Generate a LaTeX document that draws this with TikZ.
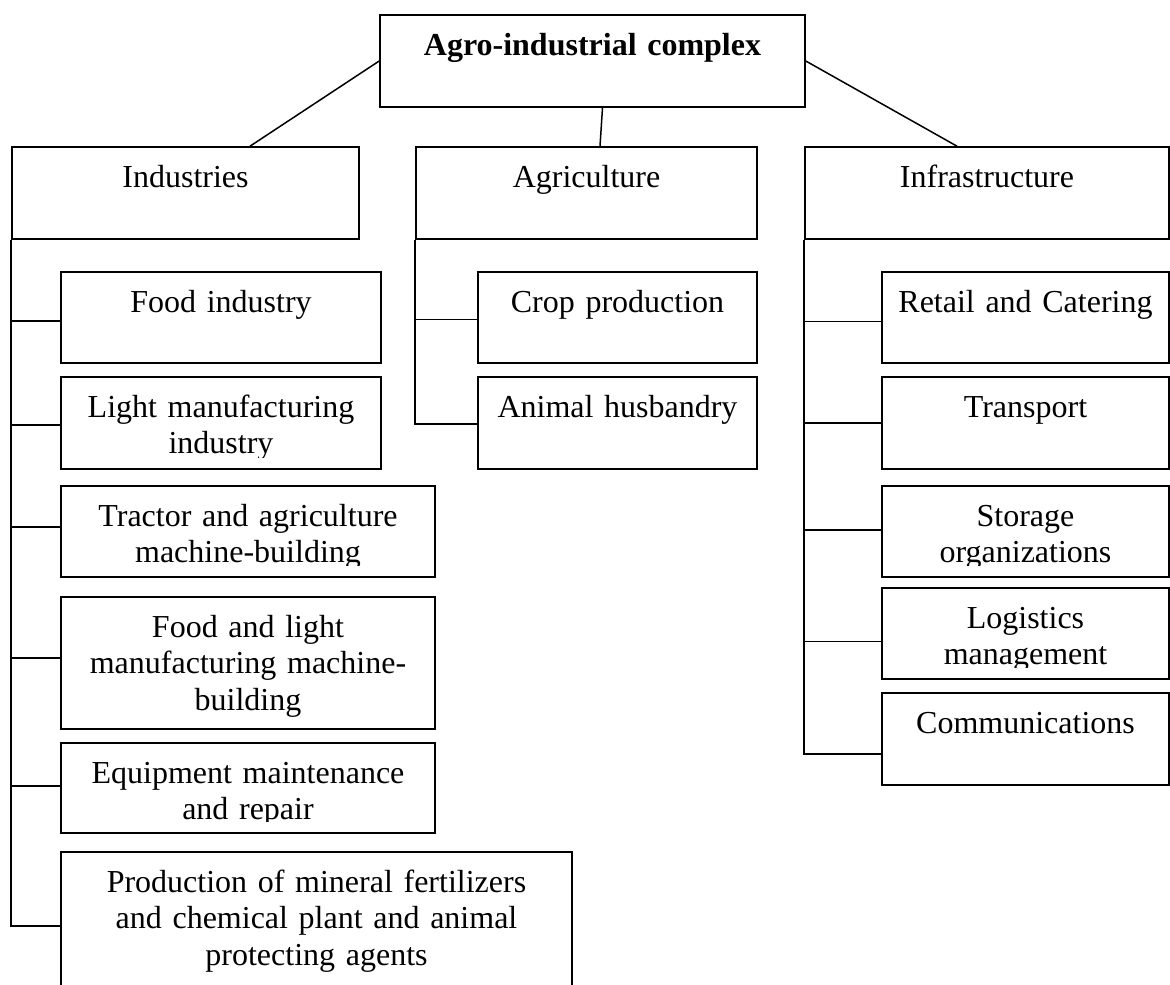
\documentclass[tikz,border=0pt]{standalone}
\usepackage{fontspec}
\setmainfont{Liberation Serif}
\begin{document}
\begin{tikzpicture}[x=1pt,y=-1pt,
  box/.style={draw=black, line width=1.6pt, rectangle, inner sep=0pt},
  conn/.style={draw=black, line width=1.5pt},
  txt/.style={anchor=base, inner sep=0pt, text width=560pt, align=center,
    font=\fontsize{32}{36.6}\selectfont},
  boxtext/.style={path picture={
    \clip ([yshift=12pt]path picture bounding box.south west) rectangle (path picture bounding box.north east);
    \node[txt] at ([yshift=-40pt]path picture bounding box.north) {#1};}}
]
\newcommand\bx[6]{%
  \pgfmathsetmacro\bxw{#4-#2}\pgfmathsetmacro\bxh{#5-#3}%
  \node[box, minimum width=\bxw pt, minimum height=\bxh pt, boxtext={#6}] (#1) at ({(#2+#4)/2},{(#3+#5)/2}) {};}
\useasboundingbox (0,0) rectangle (1170,985);

\bx{top}{380}{15}{805}{107}{\textbf{Agro-industrial complex}}
\bx{ind}{12}{147}{359}{239}{Industries}
\bx{agr}{416}{147}{757}{239}{Agriculture}
\bx{inf}{805}{147}{1169}{239}{Infrastructure}

\bx{f1}{61}{272}{381}{363}{Food industry}
\bx{f2}{61}{377}{381}{469}{Light manufacturing\\industry}
\bx{f3}{61}{486}{435}{577}{Tractor and agriculture\\machine-building}
\bx{f4}{61}{597}{435}{729}{Food and light\\manufacturing machine-\\building}
\bx{f5}{61}{743}{435}{833}{Equipment maintenance\\and repair}
\bx{f6}{61}{852}{572}{1000}{Production of mineral fertilizers\\and chemical plant and animal\\protecting agents}

\bx{a1}{478}{272}{757}{363}{Crop production}
\bx{a2}{478}{377}{757}{469}{Animal husbandry}

\bx{i1}{882}{272}{1169}{363}{Retail and Catering}
\bx{i2}{882}{377}{1169}{469}{Transport}
\bx{i3}{882}{486}{1169}{577}{Storage\\organizations}
\bx{i4}{882}{588}{1169}{679}{Logistics\\management}
\bx{i5}{882}{693}{1169}{785}{Communications}

% top-level connectors
\draw[conn] (top.west) -- ([xshift=64.5pt]ind.north);
\draw[conn] ([xshift=10pt]top.south) -- ([xshift=13.5pt]agr.north);
\draw[conn] (top.east) -- ([xshift=-30pt]inf.north);

% industries spine
\draw[conn] (ind.south west) |- (f6.west);
\foreach \n/\d in {f1/-3.5, f2/-2, f3/4.5, f4/5, f5/2}{
  \coordinate (b\n) at ([yshift=\d pt]\n.west);
  \draw[conn] (b\n) -- (ind.south west |- b\n);}

% agriculture spine
\coordinate (ba2) at ([yshift=-1pt]a2.west);
\draw[conn] (agr.south west) |- (ba2);
\coordinate (ba1) at ([yshift=-2pt]a1.west);
\draw[conn] (ba1) -- (agr.south west |- ba1);

% infrastructure spine
\coordinate (bi5) at ([yshift=-15pt]i5.west);
\draw[conn] (inf.south west) |- (bi5);
\foreach \n/\d in {i1/-4, i2/0, i3/1.5, i4/-8}{
  \coordinate (b\n) at ([yshift=\d pt]\n.west);
  \draw[conn] (b\n) -- (inf.south west |- b\n);}
\end{tikzpicture}
\end{document}
